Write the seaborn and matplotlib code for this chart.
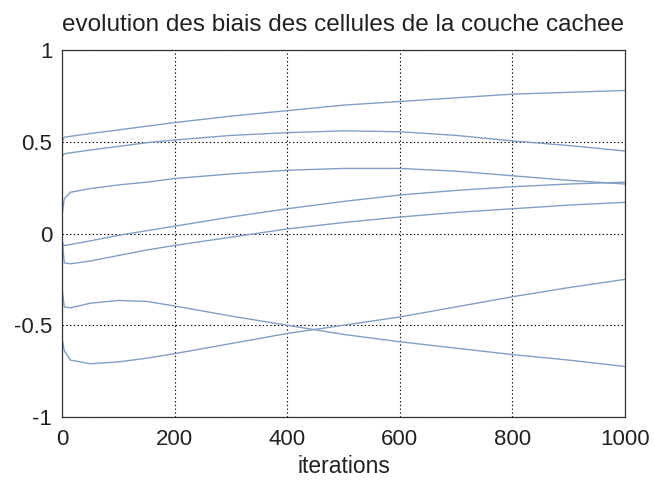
import matplotlib
matplotlib.use("Agg")
import matplotlib.pyplot as plt
import numpy as np
import pandas as pd
import seaborn as sns

# iteration checkpoints
iterations = [0, 4, 15, 50, 100, 150, 200, 300, 400, 500, 600, 700, 800, 900, 1000]

# bias of each hidden-layer cell
bias_1 = [0.50, 0.525, 0.53, 0.545, 0.565, 0.585, 0.605, 0.64, 0.67, 0.70, 0.72, 0.74, 0.76, 0.77, 0.78]
bias_2 = [0.42, 0.435, 0.44, 0.455, 0.475, 0.495, 0.51, 0.535, 0.55, 0.56, 0.555, 0.535, 0.505, 0.48, 0.45]
bias_3 = [0.10, 0.19, 0.225, 0.245, 0.265, 0.28, 0.30, 0.325, 0.345, 0.355, 0.355, 0.34, 0.315, 0.29, 0.27]
bias_4 = [-0.05, -0.065, -0.06, -0.04, -0.01, 0.015, 0.04, 0.09, 0.135, 0.175, 0.21, 0.235, 0.255, 0.27, 0.28]
bias_5 = [-0.02, -0.16, -0.165, -0.15, -0.12, -0.09, -0.065, -0.02, 0.025, 0.06, 0.09, 0.115, 0.135, 0.155, 0.17]
bias_6 = [-0.30, -0.40, -0.405, -0.38, -0.365, -0.37, -0.395, -0.45, -0.50, -0.55, -0.59, -0.625, -0.66, -0.69, -0.725]
bias_7 = [-0.57, -0.64, -0.69, -0.71, -0.70, -0.68, -0.655, -0.60, -0.545, -0.50, -0.455, -0.40, -0.345, -0.295, -0.25]

x_ticks = [0, 200, 400, 600, 800, 1000]
y_ticks = [-1, -0.5, 0, 0.5, 1]
y_tick_labels = ["-1", "-0.5", "0", "0.5", "1"]

series = [bias_1, bias_2, bias_3, bias_4, bias_5, bias_6, bias_7]
frames = []
for i, vals in enumerate(series):
    frames.append(pd.DataFrame({"iteration": iterations, "bias": vals, "cell": f"c{i + 1}"}))
df = pd.concat(frames, ignore_index=True)

sns.set_style("white")
plt.rcParams["font.family"] = ["Liberation Sans", "DejaVu Sans"]

fig = plt.figure(figsize=(6.55, 4.82), dpi=100)
ax = fig.add_axes([0.0947, 0.135, 0.8593, 0.761])

line_color = "#819fc6"
sns.lineplot(data=df, x="iteration", y="bias", hue="cell",
             palette=[line_color] * len(series), legend=False,
             linewidth=1.0, ax=ax)

ax.set_xlim(0, 1000)
ax.set_ylim(-1, 1)
ax.set_xticks(x_ticks)
ax.set_xticklabels([str(t) for t in x_ticks])
ax.set_yticks(y_ticks)
ax.set_yticklabels(y_tick_labels)
ax.tick_params(axis="both", labelsize=16, length=0, colors="#222222")
ax.tick_params(axis="x", pad=9)
ax.tick_params(axis="y", pad=7)

ax.grid(True, color="black", linestyle=(0, (1.2, 2.2)), linewidth=0.8)
for sp in ax.spines.values():
    sp.set_visible(True)
    sp.set_color("#333333")
    sp.set_linewidth(0.9)

ax.set_title("evolution des biais des cellules de la couche cachee",
             fontsize=17.5, pad=14, color="#222222")
ax.set_xlabel("iterations", fontsize=16.5, labelpad=3, color="#222222")
ax.set_ylabel("")

fig.savefig("out.png", dpi=100)
